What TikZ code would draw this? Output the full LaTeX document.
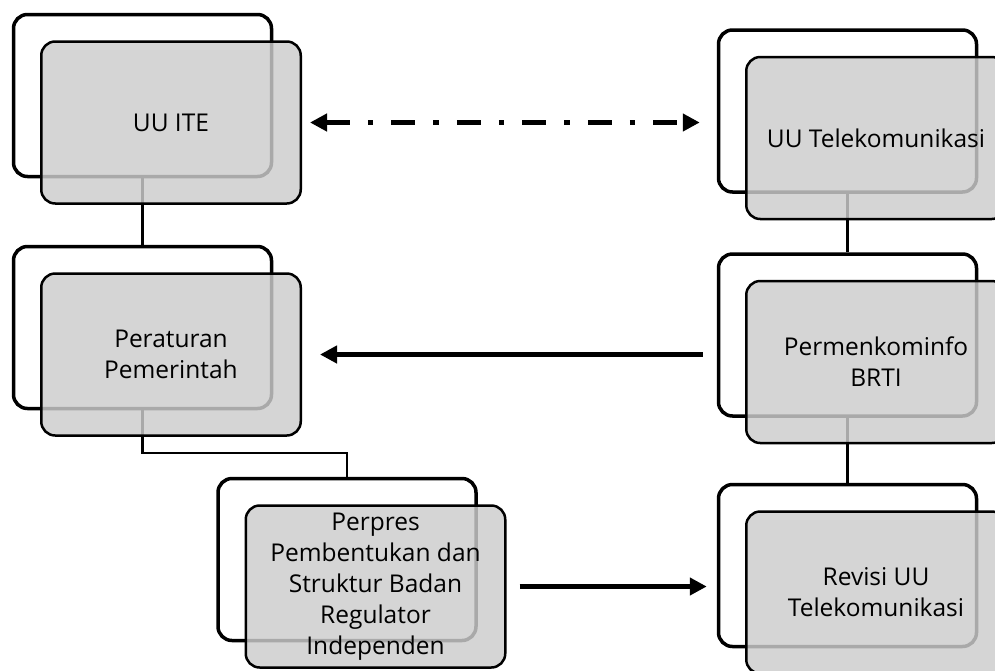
\documentclass[tikz,border=0pt]{standalone}
\usepackage{fontspec}
\setmainfont{Open Sans}
\usepackage{tikz}
\usetikzlibrary{positioning}
\usetikzlibrary{arrows.meta}
\definecolor{cardgray}{gray}{0.8}
\tikzset {
  node distance={27pt and 28.5pt},
  >={Triangle[length=17pt,width=17pt]},
  % empty card lying behind
  backcard/.style = {draw, line width=3.5pt, rounded corners=14pt, minimum width=258pt, minimum height=162pt},
  % grey card on top, slightly see-through
  card/.style = {draw, line width=2.5pt, rounded corners=14pt, fill=cardgray, fill opacity=0.83, text opacity=1,
    minimum width=259.5pt, minimum height=162pt, align=center, font=\fontsize{24.5}{31}\selectfont},
  % thin tree lines
  link/.style = {line width=2.2pt},
  % thick arrows between the columns
  flow/.style = {line width=5pt},
  dashdot/.style = {dash pattern=on 24pt off 18pt on 5.5pt off 18pt},
}

\begin{document}
\begin{tikzpicture}[x=1pt, y=-1pt, on grid]
  \useasboundingbox (0,0) rectangle (995,670);
  \clip (0,0) rectangle (995,670);

  \node[backcard] (itebg) at (142.5,95.5) {};
  \node[backcard] (ppbg) at (142.5,327.5) {};
  \node[backcard] (perpresbg) at (347,559.5) {};
  \node[backcard] (telbg) at (847.5,111) {};
  \node[backcard] (kominfobg) at (847.5,335) {};
  \node[backcard] (revisibg) at (847.5,565.5) {};

  \draw[link] (itebg.south) -- (ppbg.north);
  \draw[link] (ppbg.south) -- ++(0,43) -| (perpresbg.north);
  \draw[link] (telbg.south) -- (kominfobg.north);
  \draw[link] (kominfobg.south) -- (revisibg.north);

  \node[card] (ite) [below right=of itebg] {UU ITE};
  \node[card] (pp) [below right=of ppbg] {Peraturan\\Pemerintah};
  \node[card] (perpres) [below right=of perpresbg] {Perpres\\Pembentukan dan\\Struktur Badan\\Regulator\\Independen};
  \node[card] (tel) [below right=of telbg] {UU Telekomunikasi};
  \node[card] (kominfo) [below right=of kominfobg] {Permenkominfo\\BRTI};
  \node[card] (revisi) [below right=of revisibg] {Revisi UU\\Telekomunikasi};

  \draw[flow, dashdot, <->, shorten <=8pt, shorten >=17pt] (ite.east) -- (ite.east -| telbg.west);
  \draw[flow, ->, shorten <=14pt, shorten >=18pt] (pp.east -| kominfobg.west) -- (pp.east);
  \draw[flow, ->, shorten <=13pt, shorten >=10pt] (perpres.east) -- (perpres.east -| revisibg.west);
\end{tikzpicture}
\end{document}
